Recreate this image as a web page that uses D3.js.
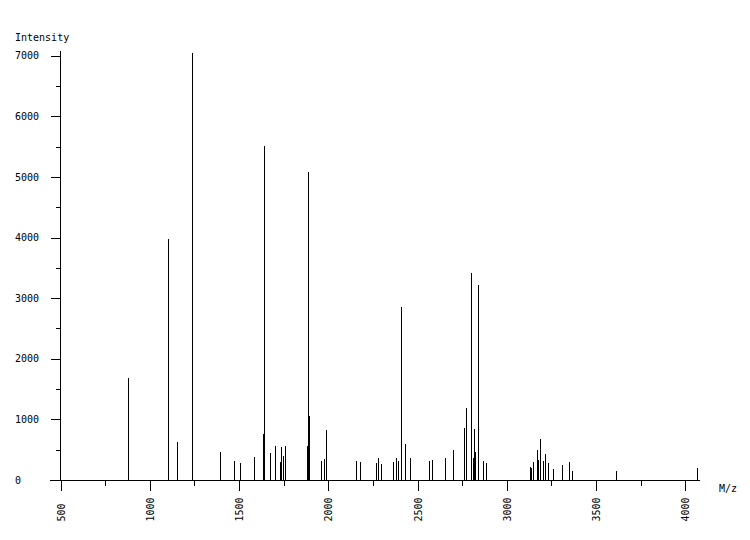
<!DOCTYPE html>
<html>
<head>
<meta charset="utf-8">
<script src="https://cdn.jsdelivr.net/npm/d3@7/dist/d3.min.js"></script>
<style>
  html, body { margin: 0; padding: 0; background: #fff; }
  svg text { font-family: "DejaVu Sans Mono", monospace; font-size: 10px; fill: #000; }
</style>
</head>
<body>
<svg id="chart" width="750" height="540"></svg>
<script>
const mzValues = [880, 1106, 1156, 1238, 1395, 1474, 1507, 1586, 1636, 1642, 1675, 1703, 1731, 1737, 1748, 1759,
  1882, 1888, 1894, 1961, 1978, 1989, 2157, 2179, 2269, 2280, 2297, 2364, 2381, 2392, 2409, 2431, 2459,
  2566, 2583, 2656, 2700, 2762, 2773, 2801, 2812, 2818, 2823, 2839, 2868, 2885,
  3132, 3137, 3148, 3171, 3176, 3188, 3204, 3216, 3232, 3260, 3311, 3350, 3367, 3613, 4067];
const intensityValues = [1690, 3975, 630, 7046, 462, 314, 281, 373, 760, 5517, 446, 562, 300, 545, 400, 562,
  560, 5083, 1060, 314, 350, 830, 314, 300, 281, 370, 265, 300, 370, 314, 2855, 595, 370,
  314, 330, 370, 500, 865, 1190, 3416, 370, 845, 460, 3223, 314, 280,
  215, 200, 300, 500, 330, 680, 314, 430, 280, 180, 250, 300, 150, 150, 200];
const xMajorTicks = [500, 1000, 1500, 2000, 2500, 3000, 3500, 4000];
const xMinorTicks = [750, 1250, 1750, 2250, 2750, 3250, 3750];
const yMajorTicks = [0, 1000, 2000, 3000, 4000, 5000, 6000, 7000];
const yMinorTicks = [500, 1500, 2500, 3500, 4500, 5500, 6500];
const xTitle = "M/z";
const yTitle = "Intensity";

const svg = d3.select("#chart");
const x = d3.scaleLinear().domain([500, 4082]).range([60.5, 700]);
const y = d3.scaleLinear().domain([0, 7082]).range([480, 50.7]);

// peaks
svg.append("g").selectAll("line")
  .data(mzValues.map((m, i) => ({m, v: intensityValues[i]})))
  .join("line")
  .attr("x1", d => Math.floor(x(d.m)) + 0.5)
  .attr("x2", d => Math.floor(x(d.m)) + 0.5)
  .attr("y1", y(0))
  .attr("y2", d => Math.round(y(d.v)))
  .attr("stroke", "#000")
  .attr("stroke-width", 1)
  .attr("shape-rendering", "crispEdges");

// x axis
const xAxisMajor = d3.axisBottom(x).tickValues(xMajorTicks).tickSize(10).tickSizeOuter(0).tickFormat(d3.format("d"));
const gx = svg.append("g").attr("transform", "translate(0,480.5)").call(xAxisMajor);
gx.select(".domain").remove();
gx.selectAll(".tick line").attr("shape-rendering", "crispEdges");
gx.selectAll(".tick text")
  .attr("transform", "rotate(-90)")
  .attr("text-anchor", "start")
  .attr("x", -41)
  .attr("y", 0)
  .attr("dy", "0.35em")
  .style("font-family", "DejaVu Sans Mono, monospace")
  .style("font-size", "10px");

const xAxisMinor = d3.axisBottom(x).tickValues(xMinorTicks).tickSize(5).tickSizeOuter(0).tickFormat("");
const gxm = svg.append("g").attr("transform", "translate(0,480.5)").call(xAxisMinor);
gxm.select(".domain").remove();
gxm.selectAll(".tick line").attr("shape-rendering", "crispEdges");

svg.append("line")
  .attr("x1", 50).attr("x2", 700).attr("y1", 480.5).attr("y2", 480.5)
  .attr("stroke", "#000").attr("shape-rendering", "crispEdges");

// y axis
const yAxisMajor = d3.axisLeft(y).tickValues(yMajorTicks).tickSize(10).tickSizeOuter(0).tickFormat(d3.format("d"));
const gy = svg.append("g").attr("transform", "translate(60.5,0)").call(yAxisMajor);
gy.select(".domain").remove();
gy.selectAll(".tick line").attr("shape-rendering", "crispEdges");
gy.selectAll(".tick text")
  .attr("text-anchor", "start")
  .attr("x", -45.5)
  .style("font-family", "DejaVu Sans Mono, monospace")
  .style("font-size", "10px");

const yAxisMinor = d3.axisLeft(y).tickValues(yMinorTicks).tickSize(5).tickSizeOuter(0).tickFormat("");
const gym = svg.append("g").attr("transform", "translate(60.5,0)").call(yAxisMinor);
gym.select(".domain").remove();
gym.selectAll(".tick line").attr("shape-rendering", "crispEdges");

svg.append("line")
  .attr("x1", 60.5).attr("x2", 60.5).attr("y1", 50.7).attr("y2", 480.5)
  .attr("stroke", "#000").attr("shape-rendering", "crispEdges");

// titles
svg.append("text").attr("x", 15).attr("y", 37).attr("dy", "0.35em").text(yTitle);
svg.append("text").attr("x", 719).attr("y", 488).attr("dy", "0.35em").text(xTitle);
</script>
</body>
</html>
